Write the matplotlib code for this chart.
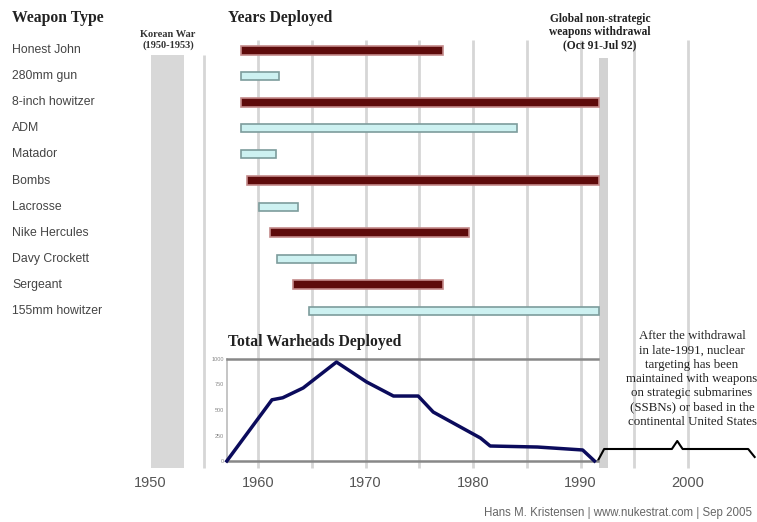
import numpy as np
import matplotlib
matplotlib.use('Agg')
import matplotlib.pyplot as plt

# weapon deployment periods (years)
weapons = ['Honest John', '280mm gun', '8-inch howitzer', 'ADM', 'Matador', 'Bombs',
           'Lacrosse', 'Nike Hercules', 'Davy Crockett', 'Sergeant', '155mm howitzer']
start = [1958.4, 1958.4, 1958.4, 1958.4, 1958.4, 1959.0, 1960.1, 1961.1, 1961.8, 1963.3, 1964.7]
end = [1977.2, 1962.0, 1991.7, 1984.1, 1961.7, 1991.7, 1963.7, 1979.6, 1969.1, 1977.2, 1991.7]
kind = ['dark', 'light', 'dark', 'light', 'light', 'dark', 'light', 'dark', 'light', 'dark', 'light']

# total warheads deployed
wh_years = [1957.1, 1961.3, 1962.3, 1964.2, 1967.3, 1970.1, 1972.6, 1974.9, 1976.3,
            1980.7, 1981.6, 1986.0, 1990.2, 1991.3]
wh_values = [0, 600, 620, 716, 970, 775, 637, 637, 480, 225, 147, 137, 108, 0]

decades = [1950, 1960, 1970, 1980, 1990, 2000]
grid_years = [1955, 1960, 1965, 1970, 1975, 1980, 1985, 1990, 1995, 2000]

W, H = 757, 522
PX_1960, PX_PER_YR = 258, 10.75


def yr(px):
    return 1960 + (px - PX_1960) / PX_PER_YR


fig = plt.figure(figsize=(W / 100, H / 100), dpi=100)
fig.patch.set_facecolor('white')
ax = fig.add_axes([0, 0, 1, 1])
ax.set_xlim(yr(0), yr(W))
ax.set_ylim(H, 0)
ax.axis('off')

serif = 'Liberation Serif'
sans = 'Liberation Sans'

# background bands and grid
ax.fill_betweenx([55, 468], 1950, 1953.1, color='#d8d8d8', lw=0, zorder=1)
ax.fill_betweenx([58, 468], 1991.7, 1992.6, color='#d2d2d2', lw=0, zorder=1)
for g in grid_years:
    top = 55 if g == 1955 else 40
    ax.vlines(g, top, 468, color='#d6d6d6', lw=2, zorder=1)

# bars
rows = 50 + 26.1 * np.arange(len(weapons))
for i in range(len(weapons)):
    if kind[i] == 'dark':
        fc, ec, h = '#5e0b0b', '#c48a8a', 9
    else:
        fc, ec, h = '#cdf1f1', '#7d9c9c', 8
    ax.barh(rows[i], end[i] - start[i], left=start[i], height=h,
            color=fc, edgecolor=ec, linewidth=1.2, zorder=3)
    ax.text(12 / W, rows[i], weapons[i], transform=ax.get_yaxis_transform(),
            ha='left', va='center', fontsize=8.8, color='#444444', family=sans)

# headers
def ftext(xp, yp, s, **kw):
    fig.text(xp / W, 1 - yp / H, s, **kw)


ftext(12, 18, 'Weapon Type', fontsize=11.3, fontweight='bold', family=serif, color='#222222',
      va='center')
ftext(228, 18, 'Years Deployed', fontsize=11.3, fontweight='bold', family=serif, color='#222222',
      va='center')
ftext(168, 40, 'Korean War\n(1950-1953)', fontsize=7.5, fontweight='bold', family=serif,
      color='#333333', ha='center', va='center', linespacing=1.1)
ftext(600, 32, 'Global non-strategic\nweapons withdrawal\n(Oct 91-Jul 92)', fontsize=8.3,
      fontweight='bold', family=serif, color='#222222', ha='center', va='center',
      linespacing=1.1)
ftext(228, 342, 'Total Warheads Deployed', fontsize=11.3, fontweight='bold', family=serif,
      color='#222222', va='center')
ftext(692, 379, 'After the withdrawal\nin late-1991, nuclear\ntargeting has been\n'
      'maintained with weapons\non strategic submarines\n(SSBNs) or based in the\n'
      'continental United States', fontsize=9.3, family=serif, color='#222222',
      ha='center', va='center', linespacing=1.25)
ftext(752, 513, 'Hans M. Kristensen | www.nukestrat.com | Sep 2005', fontsize=8.3,
      family=sans, color='#666666', ha='right', va='center')

# decade labels
for d in decades:
    ax.text(d, 483, str(d), ha='center', va='center', fontsize=10.5, family=sans,
            color='#555555')

# brace after withdrawal
ax.plot([1991.6, 1992.2, 1998.5, 1999.0, 1999.5, 2005.6, 2006.2],
        [461, 449, 449, 441, 449, 449, 457], color='black', lw=1.5, zorder=4)

# inset: total warheads
ins = fig.add_axes([227 / W, (H - 461) / H, (598 - 227) / W, 102 / H])
ins.set_facecolor('none')
ins.set_xlim(yr(227), yr(598))
ins.set_ylim(0, 1000)
ins.plot(wh_years, wh_values, color='#0b0b5c', lw=2.5, clip_on=False, zorder=5)
ins.set_xticks([])
ins.set_yticks([0, 250, 500, 750, 1000])
ins.set_yticklabels(['0', '250', '500', '750', '1000'], fontsize=4, color='#888888',
                    family=sans)
ins.tick_params(axis='y', length=0, pad=2)
for s in ['top', 'bottom']:
    ins.spines[s].set_color('#888888')
    ins.spines[s].set_linewidth(1.8)
ins.spines['left'].set_color('#bbbbbb')
ins.spines['left'].set_linewidth(1.2)
ins.spines['right'].set_visible(False)

fig.savefig('out.png', dpi=100, facecolor='white')
